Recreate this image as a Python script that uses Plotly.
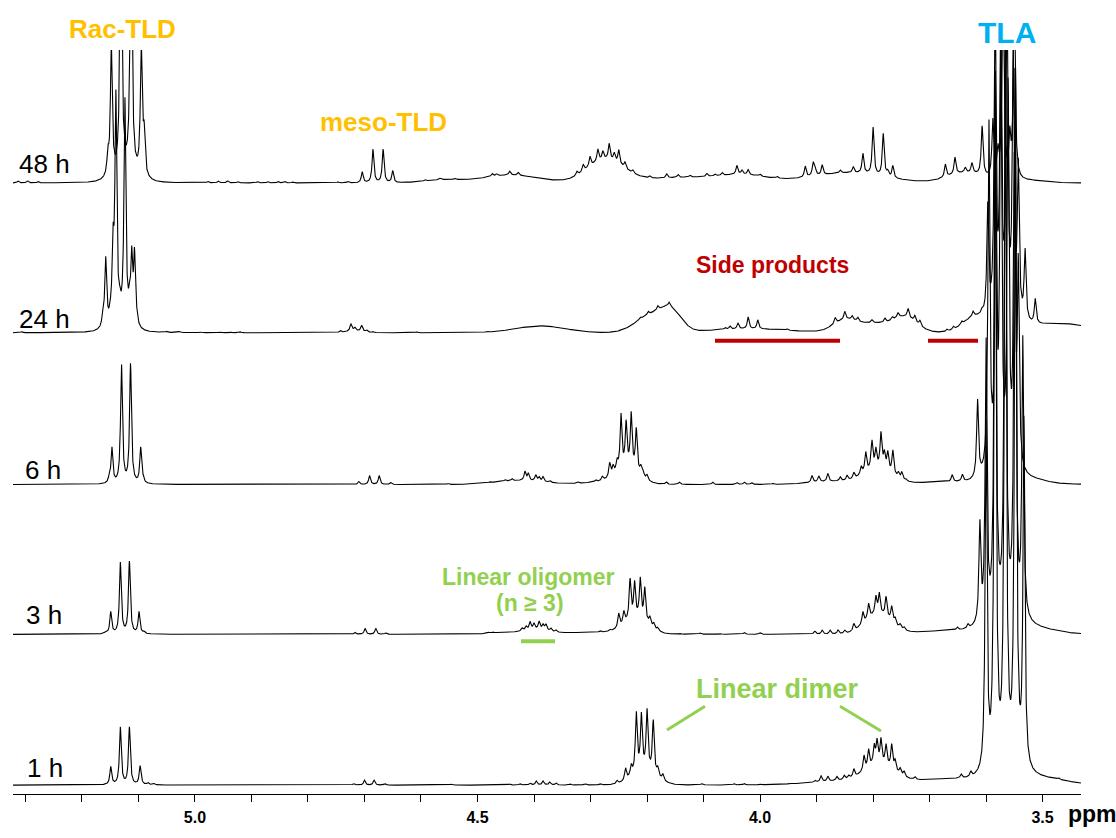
import numpy as np
import plotly.graph_objects as go

# ---------------- data ----------------
spectra = ["1 h", "3 h", "6 h", "24 h", "48 h"]

# narrow resonances: position (ppm) and intensity
lines_1h_ppm = [5.149, 5.132, 5.116, 5.097, 5.083, 5.073,
                4.719, 4.700, 4.683, 4.664, 4.546,
                4.443, 4.425, 4.407, 4.396, 4.384, 4.372, 4.361,
                4.336, 4.310, 4.283, 4.253,
                4.238, 4.228, 4.219, 4.210, 4.200, 4.189, 4.181, 4.172,
                4.103, 4.046, 4.028, 4.000, 3.947,
                3.903, 3.892, 3.880, 3.864, 3.851, 3.843, 3.834,
                3.816, 3.808, 3.798, 3.793, 3.786, 3.777, 3.767, 3.761, 3.752, 3.745, 3.726,
                3.644, 3.627,
                3.600, 3.584, 3.566, 3.548, 3.533, 3.472]
lines_1h_int = [18, 58, 58, 19, 2, 1.5,
                1.5, 5, 5, 1.5, 1,
                1, 1.5, 2, 4, 4, 3, 2,
                1, 1.5, 1.5, 3,
                12, 10, 60, 55, 60, 53, 8, 6,
                1.5, 1.5, 1.5, 1, 1,
                2, 6, 5, 4, 4, 3, 8,
                15, 18, 18, 22, 24, 20, 24, 10, 6, 5, 3,
                4, 5,
                350, 700, 750, 700, 350, 1.5]
broad_1h_ppm = [4.205, 3.788, 3.823, 3.664, 3.566, 3.505]
broad_1h_int = [14, 16, 5, 5, 12, 6]
broad_1h_wid = [0.021, 0.025, 0.071, 0.053, 0.025, 0.044]

lines_3h_ppm = [5.158, 5.149, 5.132, 5.116, 5.099, 5.090,
                4.717, 4.699, 4.680, 4.662, 4.481, 4.473,
                4.421, 4.414, 4.407, 4.400, 4.391, 4.384, 4.379, 4.370, 4.361,
                4.283, 4.266,
                4.250, 4.241, 4.230, 4.222, 4.212, 4.204, 4.195, 4.188, 4.181,
                4.142, 4.106, 4.071, 4.028, 4.000,
                3.903, 3.890, 3.876, 3.862, 3.850, 3.834,
                3.818, 3.808, 3.795, 3.789, 3.777, 3.767, 3.761, 3.752, 3.745,
                3.651, 3.632,
                3.611, 3.600, 3.584, 3.566, 3.549, 3.535]
lines_3h_int = [2, 22, 72, 73, 22, 2,
                2, 6, 6, 1.5, 1, 1,
                3, 4, 8, 6, 8, 5, 6, 3, 2,
                1.5, 2,
                14, 12, 40, 35, 40, 33, 8, 5, 3,
                1, 1.5, 1, 2, 1.5,
                3, 4, 4, 4, 3, 7,
                12, 15, 17, 20, 20, 15, 6, 4, 3,
                3, 4,
                98, 280, 550, 600, 550, 280]
broad_3h_ppm = [4.451, 4.395, 4.301, 4.219, 3.791, 3.672, 3.570, 3.513]
broad_3h_int = [2, 4, 2, 15, 20, 3, 12, 5]
broad_3h_wid = [0.027, 0.021, 0.053, 0.021, 0.023, 0.053, 0.027, 0.035]

lines_6h_ppm = [5.152, 5.147, 5.130, 5.114, 5.096, 5.092,
                4.710, 4.691, 4.674, 4.653, 4.552,
                4.478, 4.451, 4.439, 4.416, 4.410, 4.397, 4.391, 4.384, 4.372,
                4.322, 4.291, 4.279,
                4.266, 4.260, 4.253, 4.246, 4.237, 4.228, 4.219, 4.211, 4.207, 4.200,
                4.166, 4.143, 4.084, 4.041, 4.028, 4.015, 3.977,
                3.908, 3.896, 3.880, 3.858, 3.846, 3.834,
                3.821, 3.813, 3.802, 3.795, 3.786, 3.780, 3.774, 3.765, 3.755, 3.749, 3.742,
                3.660, 3.642,
                3.615, 3.595, 3.583, 3.574, 3.561, 3.550, 3.543]
lines_6h_int = [4, 36, 120, 121, 36, 3,
                3, 9, 9, 2, 1,
                1, 1.5, 2, 9, 7, 6, 4, 5, 2,
                1.5, 2, 4,
                14, 8, 10, 55, 45, 55, 43, 8, 5, 5,
                2.5, 2.5, 2.5, 2, 2.5, 2, 1,
                7, 6, 8, 4, 5, 6,
                8, 20, 28, 18, 35, 15, 18, 24, 5, 7, 2,
                7, 7,
                78, 350, 300, 420, 380, 300, 200]
broad_6h_ppm = [4.425, 4.287, 4.235, 3.867, 3.791, 3.681, 3.575, 3.522]
broad_6h_int = [4, 2, 15, 3, 15, 2, 12, 4]
broad_6h_wid = [0.044, 0.027, 0.021, 0.044, 0.025, 0.044, 0.021, 0.027]

lines_24h_ppm = [5.307, 5.163, 5.158, 5.150, 5.145, 5.140, 5.133, 5.124, 5.116, 5.112, 5.107, 5.103,
                 5.050, 5.027, 4.991, 4.956, 4.938, 4.920,
                 4.743, 4.724, 4.717, 4.705, 4.696, 4.685, 4.607, 4.483,
                 4.212, 4.198, 4.181, 4.161,
                 4.062, 4.053, 4.039, 4.021, 4.004, 3.952,
                 3.867, 3.850, 3.837, 3.827, 3.802, 3.779, 3.766, 3.756, 3.738, 3.726, 3.717,
                 3.669, 3.658, 3.643, 3.623, 3.607,
                 3.597, 3.584, 3.574, 3.563, 3.552, 3.543, 3.531, 3.513]
lines_24h_int = [1, 10, 68, 5, 70, 225, 10, 225, 15, 65, 70, 5,
                 1, 1, 1, 1, 1, 1,
                 2, 7, 3, 6, 2, 1, 1, 1,
                 2, 3, 4, 4,
                 2, 3, 6, 12, 9, 1.5,
                 6, 8, 4, 4, 3, 4, 3, 5, 9, 6, 5,
                 2, 3, 3, 5, 4,
                 110, 320, 300, 320, 260, 150, 70, 25]
broad_24h_ppm = [5.133, 4.717, 4.389, 4.191, 4.156, 4.018, 3.850, 3.797, 3.743, 3.620, 3.566, 3.469]
broad_24h_int = [8, 2, 7, 18, 17, 4, 12, 9, 15, 14, 12, 9]
broad_24h_wid = [0.0177, 0.014, 0.044, 0.028, 0.0177, 0.071, 0.021, 0.027, 0.021, 0.021, 0.021, 0.053]

lines_48h_ppm = [5.313, 5.296, 5.278,
                 5.154, 5.148, 5.131, 5.113, 5.095, 5.090,
                 4.977, 4.959, 4.942, 4.924, 4.889, 4.871, 4.853, 4.841, 4.827,
                 4.747, 4.729, 4.704, 4.685, 4.667, 4.650, 4.630,
                 4.593, 4.566, 4.540,
                 4.474, 4.466, 4.443, 4.428,
                 4.324, 4.313, 4.301, 4.287, 4.278, 4.267, 4.258, 4.250, 4.239, 4.225,
                 4.195, 4.165, 4.145, 4.124, 4.094, 4.080, 4.067, 4.041, 4.032, 4.021, 4.000, 3.970,
                 3.920, 3.906, 3.903, 3.890, 3.858, 3.835, 3.818, 3.800, 3.782, 3.774, 3.765,
                 3.672, 3.655, 3.637, 3.625, 3.607, 3.588, 3.579,
                 3.570, 3.558, 3.550]
lines_48h_int = [2, 2, 1.5,
                 20, 130, 300, 300, 130, 40,
                 1.5, 2, 2, 1.5, 1.5, 1.5, 1.5, 1.5, 1,
                 1, 1.5, 11, 34, 34, 12, 1,
                 1.5, 1.5, 1.5,
                 3, 2, 4, 3,
                 4, 7, 10, 12, 8, 16, 8, 14, 6, 3,
                 2, 4, 3, 2, 3, 2, 3, 9, 4, 5, 2, 2,
                 11, 12, 8, 10, 3, 6, 20, 48, 43, 5, 12,
                 13, 17, 5, 10, 50, 58, 25,
                 200, 40, 200]
broad_48h_ppm = [5.122, 4.563, 4.443, 4.274, 4.106, 4.027, 3.841, 3.637, 3.522]
broad_48h_int = [10, 3, 8, 22, 6, 4, 10, 10, 2]
broad_48h_wid = [0.021, 0.032, 0.050, 0.032, 0.106, 0.035, 0.062, 0.032, 0.027]

line_halfwidth = 0.00195  # ppm, Lorentzian half width of the narrow lines

tick_ppm = [5.3, 5.2, 5.1, 5.0, 4.9, 4.8, 4.7, 4.6, 4.5, 4.4, 4.3, 4.2, 4.1, 4.0, 3.9, 3.8, 3.7, 3.6, 3.5]
tick_text = ["", "", "", "5.0", "", "", "", "", "4.5", "", "", "", "", "4.0", "", "", "", "", "3.5"]

# ---------------- layout constants ----------------
W, H = 1116, 838
ML, MR, MT, MB = 13, 35, 50, 33
PW, PH = W - ML - MR, H - MT - MB
X_RANGE = [5.322, 3.432]
stack_offset = {"1 h": 9, "3 h": 162, "6 h": 314, "24 h": 468, "48 h": 620}

FONT = "Arial, Liberation Sans, sans-serif"

def px(xp):
    return (xp - ML) / PW

def py(yp):
    return (H - MB - yp) / PH

series = {
    "1 h": (lines_1h_ppm, lines_1h_int, broad_1h_ppm, broad_1h_int, broad_1h_wid),
    "3 h": (lines_3h_ppm, lines_3h_int, broad_3h_ppm, broad_3h_int, broad_3h_wid),
    "6 h": (lines_6h_ppm, lines_6h_int, broad_6h_ppm, broad_6h_int, broad_6h_wid),
    "24 h": (lines_24h_ppm, lines_24h_int, broad_24h_ppm, broad_24h_int, broad_24h_wid),
    "48 h": (lines_48h_ppm, lines_48h_int, broad_48h_ppm, broad_48h_int, broad_48h_wid),
}

x = np.linspace(X_RANGE[0], X_RANGE[1], 6001)

fig = go.Figure()
for name in spectra[::-1]:
    lp, li, bp, bi, bw = series[name]
    y = np.zeros_like(x)
    for p, a in zip(lp, li):
        y += a * line_halfwidth**2 / ((x - p) ** 2 + line_halfwidth**2)
    for p, a, w in zip(bp, bi, bw):
        y += a * np.exp(-((x - p) ** 2) / (2 * w * w))
    fig.add_trace(go.Scatter(x=x, y=y + stack_offset[name], mode="lines",
                             line=dict(color="black", width=1.1),
                             hoverinfo="skip", showlegend=False))

ann = []
def label(text, xp, yp, size, color, xanchor="center", bold=True):
    ann.append(dict(text=("<b>%s</b>" % text) if bold else text,
                    x=px(xp), y=py(yp), xref="paper", yref="paper",
                    xanchor=xanchor, yanchor="middle", showarrow=False,
                    font=dict(family=FONT, size=size, color=color)))

label("Rac-TLD", 122, 29, 26, "#FFC000")
label("meso-TLD", 383, 123, 26, "#FFC000")
label("TLA", 1007, 32, 30, "#00B0F0")
label("Side products", 772, 268, 23, "#C00000")
label("Linear oligomer", 528, 585, 23, "#92D050")
label("(n ≥ 3)", 530, 611, 23, "#92D050")
label("Linear dimer", 777, 698, 27, "#92D050")
label("ppm", 1092, 825, 23, "black")
for name, (xl, yl) in {"48 h": (17, 166), "24 h": (17, 323), "6 h": (23, 476),
                        "3 h": (24, 623), "1 h": (25, 779)}.items():
    label(name, xl, yl, 26, "black", xanchor="left", bold=False)

shapes = []
def seg(x0, y0, x1, y1, color, width):
    shapes.append(dict(type="line", xref="paper", yref="paper",
                       x0=px(x0), y0=py(y0), x1=px(x1), y1=py(y1),
                       line=dict(color=color, width=width)))

seg(715, 345, 840, 345, "#C00000", 4)
seg(928, 345, 978, 345, "#C00000", 4)
seg(521, 650, 555, 650, "#92D050", 4)
seg(667, 740, 705, 716, "#92D050", 3)
seg(840, 716, 881, 741, "#92D050", 3)

fig.update_layout(
    width=W, height=H, autosize=False,
    margin=dict(l=ML, r=MR, t=MT, b=MB, pad=0),
    plot_bgcolor="white", paper_bgcolor="white",
    annotations=ann, shapes=shapes,
    xaxis=dict(range=X_RANGE, tickvals=tick_ppm,
               ticktext=[("<b>%s</b>" % t) if t else "" for t in tick_text],
               ticks="outside", ticklen=7, tickwidth=1.3, tickcolor="black",
               showline=True, linecolor="black", linewidth=1.3,
               showgrid=False, zeroline=False, ticklabelstandoff=2,
               tickfont=dict(family=FONT, size=16, color="black")),
    yaxis=dict(range=[0, PH], visible=False, showgrid=False, zeroline=False),
)

fig.write_html("out.html")
